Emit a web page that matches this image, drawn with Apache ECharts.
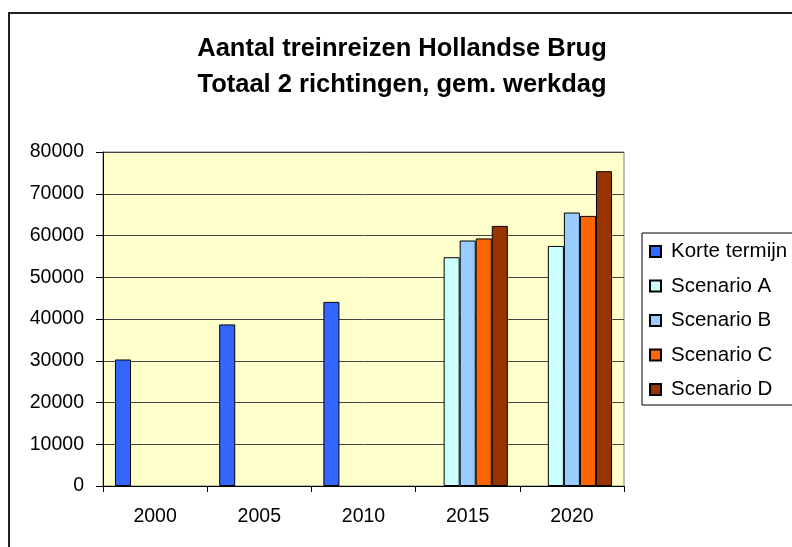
<!DOCTYPE html>
<html>
<head>
<meta charset="utf-8">
<script src="https://cdn.jsdelivr.net/npm/echarts@6/dist/echarts.min.js"></script>
<style>
html, body { margin: 0; padding: 0; background: #fff; }
#main { width: 792px; height: 547px; }
</style>
</head>
<body>
<div id="main"></div>
<script>
// gegevens
var jaren = ['2000', '2005', '2010', '2015', '2020'];
var korteTermijn = [30300, 38700, 44100, null, null];
var scenarioA = [null, null, null, 54800, 57500];
var scenarioB = [null, null, null, 58800, 65500];
var scenarioC = [null, null, null, 59300, 64700];
var scenarioD = [null, null, null, 62300, 75400];

var reeksen = [
	{ naam: 'Korte termijn', data: korteTermijn, kleur: '#3366FF' },
	{ naam: 'Scenario A', data: scenarioA, kleur: '#CCFFFF' },
	{ naam: 'Scenario B', data: scenarioB, kleur: '#99CCFF' },
	{ naam: 'Scenario C', data: scenarioC, kleur: '#FF6600' },
	{ naam: 'Scenario D', data: scenarioD, kleur: '#993300' }
];

var myChart = echarts.init(document.getElementById('main'));

var font = 'Liberation Sans, Arial, sans-serif';

var option = {
	animation: false,
	textStyle: { fontFamily: font },
	title: {
		text: 'Aantal treinreizen Hollandse Brug\nTotaal 2 richtingen, gem. werkdag',
		left: 397,
		textAlign: 'center',
		top: 26,
		textStyle: {
			fontFamily: font,
			fontSize: 25.5,
			fontWeight: 'bold',
			color: '#000',
			lineHeight: 36
		}
	},
	graphic: [
		{
			type: 'rect',
			shape: { x: 9, y: 13, width: 820, height: 600 },
			style: { fill: 'none', stroke: '#222', lineWidth: 2 },
			silent: true
		},
		{
			type: 'rect',
			shape: { x: 642, y: 233, width: 200, height: 172 },
			style: { fill: '#fff', stroke: '#000', lineWidth: 1 },
			silent: true
		}
	],
	legend: {
		orient: 'vertical',
		left: 644,
		top: 236,
		itemWidth: 11,
		itemHeight: 11,
		itemGap: 13.5,
		icon: 'rect',
		z: 10,
		textStyle: { fontFamily: font, fontSize: 20.5, color: '#000', padding: [0, 0, 0, 5] },
		data: reeksen.map(function (r) { return r.naam; })
	},
	grid: {
		left: 103,
		right: 168,
		top: 152,
		bottom: 61,
		show: true,
		backgroundColor: '#FFFFCC',
		borderColor: '#808080',
		borderWidth: 1
	},
	xAxis: {
		type: 'category',
		data: jaren,
		axisLine: { lineStyle: { color: '#000', width: 1 } },
		axisTick: { show: true, length: 6, lineStyle: { color: '#000' } },
		axisLabel: { fontFamily: font, fontSize: 19.5, color: '#000', margin: 21 },
		splitLine: { show: false }
	},
	yAxis: {
		type: 'value',
		min: 0,
		max: 80000,
		interval: 10000,
		axisLine: { show: true, lineStyle: { color: '#000', width: 1 } },
		axisTick: { show: true, length: 7, lineStyle: { color: '#000' } },
		axisLabel: {
			fontFamily: font,
			fontSize: 19.5,
			color: '#000',
			margin: 19,
			formatter: function (v) { return String(v); }
		},
		splitLine: { show: true, lineStyle: { color: '#444', width: 1 } }
	},
	series: reeksen.map(function (r) {
		return {
			name: r.naam,
			type: 'bar',
			data: r.data,
			barGap: '0%',
			barCategoryGap: '23%',
			itemStyle: { color: r.kleur, borderColor: '#000', borderWidth: 1 }
		};
	})
};

myChart.setOption(option);
</script>
</body>
</html>
